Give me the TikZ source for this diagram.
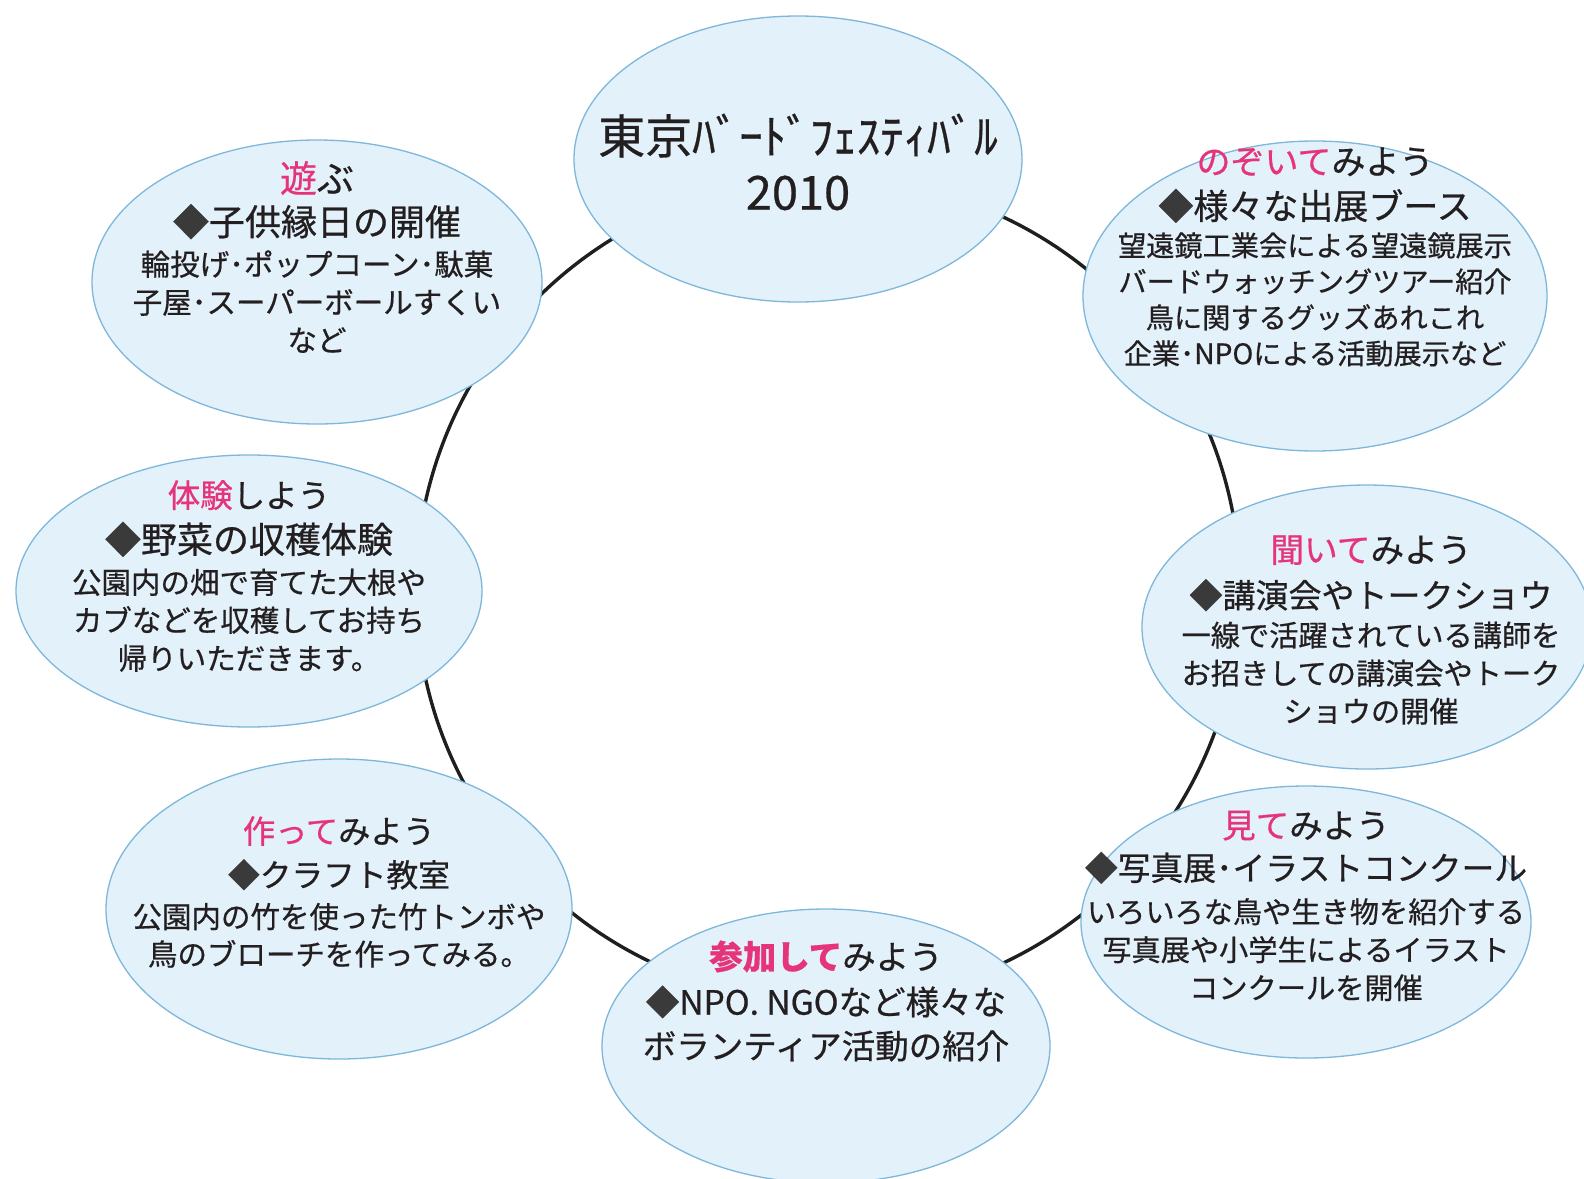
\documentclass[tikz,border=0pt]{standalone}
\usepackage{fontspec}
\usetikzlibrary{shapes.geometric}
\newfontfamily\jp{Noto Sans CJK JP}[FakeBold=0.6]
\definecolor{pinkc}{HTML}{E6347A}
\definecolor{ellfill}{HTML}{E3F1FA}
\definecolor{elldraw}{HTML}{7DB7DA}
\definecolor{txtc}{HTML}{231F20}
\definecolor{diac}{HTML}{3A3A3A}
\newcommand\pk[1]{\textcolor{pinkc}{#1}}
\newcommand\mysz[2]{{\fontsize{#1}{#1}\selectfont #2}}
\newcommand\dia{\textcolor{diac}{◆}}
\tikzset{
  bubble/.style={ellipse, draw=elldraw, fill=ellfill, line width=1.3pt, inner sep=0pt},
  bubtext/.style={align=center, text=txtc, inner sep=0pt},
  ringline/.style={circle, draw=black!88, line width=3.4pt, inner sep=0pt}
}
\begin{document}
\begin{tikzpicture}[x=1pt,y=-1pt]
\useasboundingbox[fill=white] (0,0) rectangle (1584,1178);
\node[ringline, minimum size=824pt] (ring) at (828,590) {};
% ellipses
\node[bubble, minimum width=448pt, minimum height=286pt] (etitle) at (798,159) {};
\node[bubble, minimum width=464pt, minimum height=310pt] (enozo) at (1315,296) {};
\node[bubble, minimum width=450pt, minimum height=284pt] (easobu) at (317,282) {};
\node[bubble, minimum width=466pt, minimum height=272pt] (etaiken) at (249,591) {};
\node[bubble, minimum width=450pt, minimum height=284pt] (ekiite) at (1367,627) {};
\node[bubble, minimum width=450pt, minimum height=272pt] (emite) at (1306,922) {};
\node[bubble, minimum width=448pt, minimum height=274pt] (esanka) at (826,1046) {};
\node[bubble, minimum width=466pt, minimum height=300pt] (etsuku) at (339,909) {};
% texts
\node[bubtext, font={\jp\fontsize{47}{56}\selectfont}] (ttitle) at (798,162)
  {東京ﾊﾞｰﾄﾞﾌｪｽﾃｨﾊﾞﾙ\\2010};
\node[bubtext, font={\jp\fontsize{28.2}{36}\selectfont}] (tnozo) at (1315,257)
  {\mysz{34}{\pk{のぞいて}みよう}\\[9pt]\mysz{35}{\dia 様々な出展ブース}\\[1pt]望遠鏡工業会による望遠鏡展示\\バードウォッチングツアー紹介\\鳥に関するグッズあれこれ\\企業･NPOによる活動展示など};
\node[bubtext, font={\jp\fontsize{29.5}{38}\selectfont}] (tasobu) at (317,257)
  {\mysz{37}{\pk{遊}ぶ}\\[5pt]\mysz{36}{\dia 子供縁日の開催}\\[2pt]輪投げ･ポップコーン･駄菓\\子屋･スーパーボールすくい\\など};
\node[bubtext, font={\jp\fontsize{29.5}{38}\selectfont}] (ttaiken) at (249,576)
  {\mysz{32.5}{\pk{体験}しよう}\\[7.5pt]\mysz{36}{\dia 野菜の収穫体験}\\[2.5pt]公園内の畑で育てた大根や\\カブなどを収穫してお持ち\\帰りいただきます。};
\node[bubtext, font={\jp\fontsize{29.2}{38}\selectfont}] (tkiite) at (1371,630)
  {\mysz{33.7}{\pk{聞いて}みよう}\\[7.5pt]\mysz{33}{\dia 講演会やトークショウ}\\[0.5pt]一線で活躍されている講師を\\お招きしての講演会やトーク\\ショウの開催};
\node[bubtext, font={\jp\fontsize{29.2}{38}\selectfont}] (tmite) at (1306,906)
  {\mysz{33.5}{\pk{見て}みよう}\\[4.5pt]\mysz{32.8}{\dia 写真展･イラストコンクール}\\[4.5pt]いろいろな鳥や生き物を紹介する\\写真展や小学生によるイラスト\\コンクールを開催};
\node[bubtext, font={\jp\fontsize{33.5}{44}\selectfont}] (tsanka) at (826,1001)
  {{\pk{\bfseries 参加して}}みよう\\[1.5pt]\dia NPO. NGOなど様々な\\ボランティア活動の紹介};
\node[bubtext, font={\jp\fontsize{29.5}{37.5}\selectfont}] (ttsuku) at (339,892)
  {\mysz{32.3}{\pk{作って}みよう}\\[6pt]\mysz{31.7}{\dia クラフト教室}\\[3.5pt]公園内の竹を使った竹トンボや\\鳥のブローチを作ってみる。};
\end{tikzpicture}
\end{document}
